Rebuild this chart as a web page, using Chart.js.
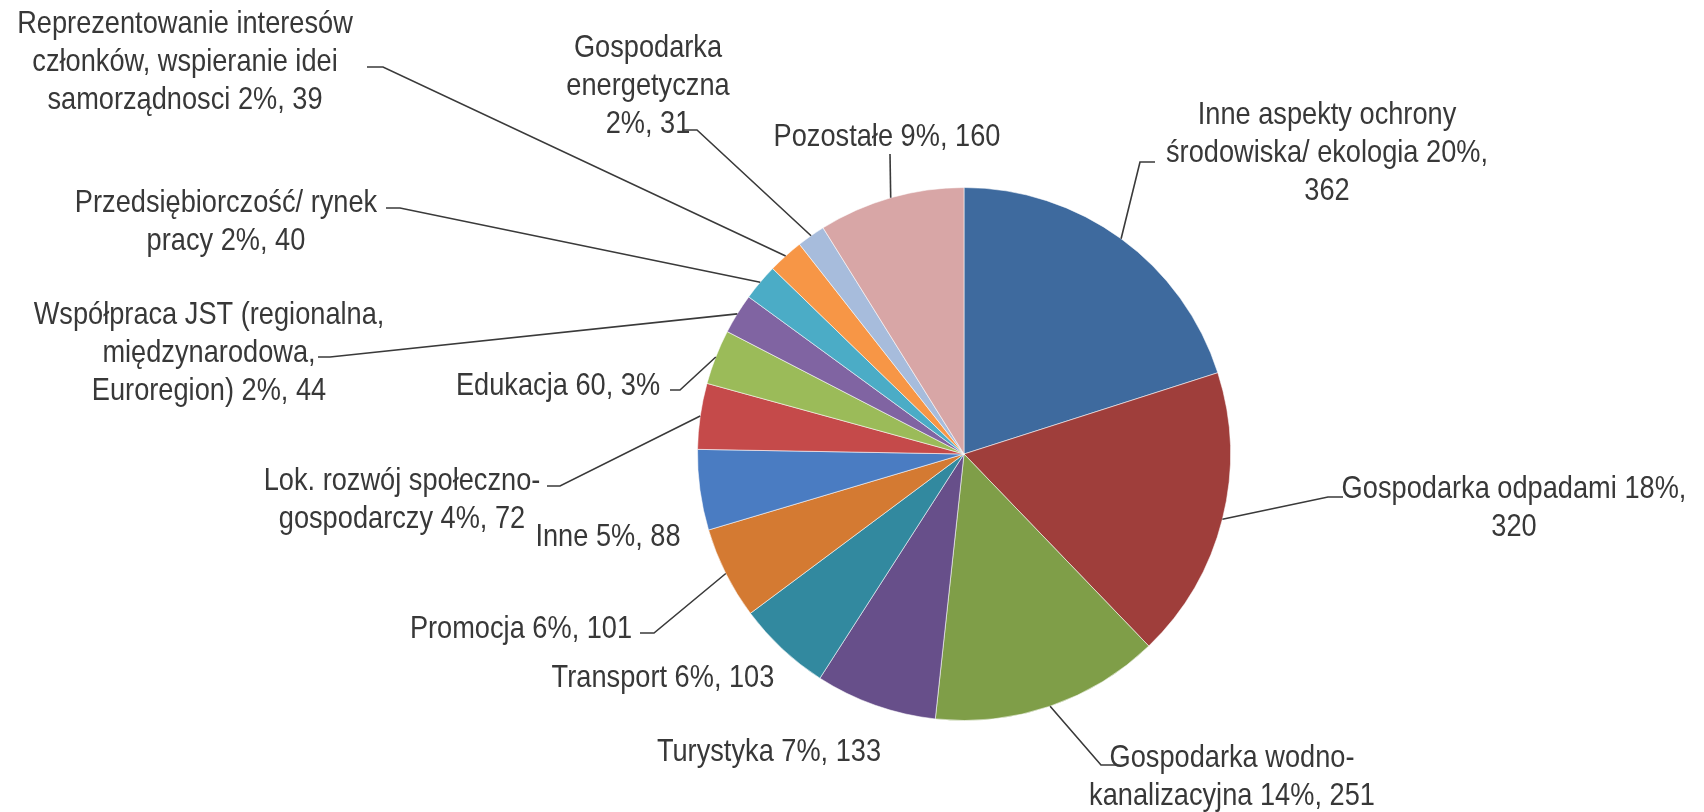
<!DOCTYPE html>
<html>
<head>
<meta charset="utf-8">
<script src="https://cdn.jsdelivr.net/npm/chart.js@4/dist/chart.umd.min.js"></script>
<style>
    html, body { margin: 0; padding: 0; background: #fff; }
    #wrap { width: 1704px; height: 812px; position: relative; }
</style>
</head>
<body>
<div id="wrap"><canvas id="pieChart"></canvas></div>
<script>
// values clockwise from 12 o'clock
const categories = [
    'Inne aspekty ochrony środowiska/ ekologia',
    'Gospodarka odpadami',
    'Gospodarka wodno-kanalizacyjna',
    'Turystyka',
    'Transport',
    'Promocja',
    'Inne',
    'Lok. rozwój społeczno-gospodarczy',
    'Edukacja',
    'Współpraca JST (regionalna, międzynarodowa, Euroregion)',
    'Przedsiębiorczość/ rynek pracy',
    'Reprezentowanie interesów członków, wspieranie idei samorządnosci',
    'Gospodarka energetyczna',
    'Pozostałe'
]
const counts = [362, 320, 251, 133, 103, 101, 88, 72, 60, 44, 40, 39, 31, 160]

// label text as printed, {p} = percent, {v} = count
const labelLines = [
    ['Inne aspekty ochrony', 'środowiska/ ekologia {p},', '{v}'],
    ['Gospodarka odpadami {p},', '{v}'],
    ['Gospodarka wodno-', 'kanalizacyjna {p}, {v}'],
    ['Turystyka {p}, {v}'],
    ['Transport {p}, {v}'],
    ['Promocja {p}, {v}'],
    ['Inne {p}, {v}'],
    ['Lok. rozwój społeczno-', 'gospodarczy {p}, {v}'],
    ['Edukacja {v}, {p}'],
    ['Współpraca JST (regionalna,', 'międzynarodowa,', 'Euroregion) {p}, {v}'],
    ['Przedsiębiorczość/ rynek', 'pracy {p}, {v}'],
    ['Reprezentowanie interesów', 'członków, wspieranie idei', 'samorządnosci {p}, {v}'],
    ['Gospodarka', 'energetyczna', '{p}, {v}'],
    ['Pozostałe {p}, {v}']
]

const sliceColors = [
    '#3e6a9e', '#9f3e3b', '#7f9e48', '#674f8a', '#32899f', '#d47a32', '#4a7cc2',
    '#c54a4a', '#9bbb59', '#8064a2', '#4bacc6', '#f79646', '#a7bcdc', '#d8a6a6'
]

// label placement: text block centre x, first baseline y, leader start (sx, sy) and tick end (tx)
const labelLayout = [
    { x: 1327, y: 124, leader: { sx: 1155, sy: 162, tx: 1140 } },
    { x: 1514, y: 498, leader: { sx: 1343, sy: 497, tx: 1328 } },
    { x: 1232, y: 767, leader: { sx: 1116, sy: 765, tx: 1101 } },
    { x: 769, y: 761 },
    { x: 663, y: 687 },
    { x: 521, y: 638, leader: { sx: 640, sy: 633, tx: 654 } },
    { x: 608, y: 546 },
    { x: 402, y: 490, leader: { sx: 547, sy: 486, tx: 560 } },
    { x: 558, y: 395, leader: { sx: 670, sy: 390, tx: 680 } },
    { x: 209, y: 324, leader: { sx: 318, sy: 357, tx: 330 } },
    { x: 226, y: 212, leader: { sx: 386, sy: 208, tx: 400 } },
    { x: 185, y: 33, leader: { sx: 367, sy: 67, tx: 383 } },
    { x: 648, y: 57, leader: { sx: 682, sy: 130, tx: 697 } },
    { x: 887, y: 146, leader: { sx: 890, sy: 154, tx: 890 } }
]

const LINE_H = 38
const FONT = '32px "Liberation Sans", Arial, sans-serif'
const NARROW = 0.85

const total = counts.reduce((a, b) => a + b, 0)

function labelText(i) {
    const p = Math.round(counts[i] / total * 100) + '%'
    return labelLines[i].map(l => l.replace('{p}', p).replace('{v}', counts[i]))
}

const sliceLabels = {
    id: 'sliceLabels',
    afterDraw(chart) {
        const ctx = chart.ctx
        const meta = chart.getDatasetMeta(0)
        ctx.save()
        ctx.font = FONT
        ctx.fillStyle = '#383838'
        ctx.textAlign = 'center'
        ctx.textBaseline = 'alphabetic'
        meta.data.forEach((arc, i) => {
            const lay = labelLayout[i]
            labelText(i).forEach((line, k) => {
                // narrow face: squeeze a regular sans horizontally
                ctx.save()
                ctx.translate(lay.x, lay.y + k * LINE_H)
                ctx.scale(NARROW, 1)
                ctx.fillText(line, 0, 0)
                ctx.restore()
            })
            if (lay.leader) {
                const { x, y, startAngle, endAngle, outerRadius } = arc.getProps(['x', 'y', 'startAngle', 'endAngle', 'outerRadius'], true)
                const mid = (startAngle + endAngle) / 2
                const px = x + Math.cos(mid) * outerRadius
                const py = y + Math.sin(mid) * outerRadius
                ctx.beginPath()
                ctx.strokeStyle = '#3a3a3a'
                ctx.lineWidth = 1.6
                ctx.moveTo(lay.leader.sx, lay.leader.sy)
                ctx.lineTo(lay.leader.tx, lay.leader.sy)
                ctx.lineTo(px, py)
                ctx.stroke()
            }
        })
        ctx.restore()
    }
}

new Chart(document.getElementById('pieChart'), {
    type: 'pie',
    data: {
        labels: categories,
        datasets: [{
            data: counts,
            backgroundColor: sliceColors,
            borderColor: 'rgba(255,255,255,0.55)',
            borderWidth: 1
        }]
    },
    options: {
        responsive: true,
        maintainAspectRatio: false,
        animation: false,
        layout: {
            padding: { top: 187, bottom: 91, left: 697, right: 473 }
        },
        plugins: {
            legend: { display: false },
            tooltip: { enabled: false }
        }
    },
    plugins: [sliceLabels]
})
</script>
</body>
</html>
